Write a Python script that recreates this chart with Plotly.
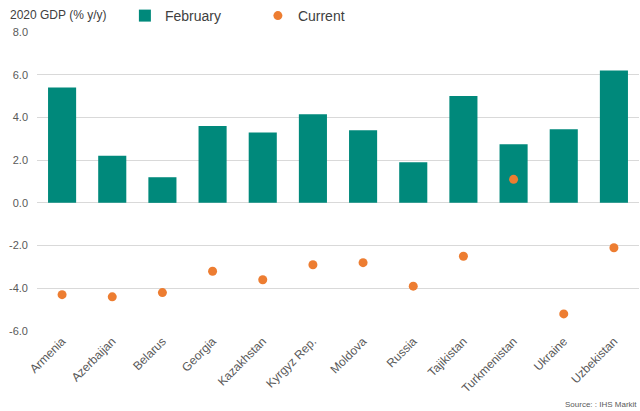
import plotly.graph_objects as go

# --- Datos ---
paises = ['Armenia', 'Azerbaijan', 'Belarus', 'Georgia', 'Kazakhstan', 'Kyrgyz Rep.',
          'Moldova', 'Russia', 'Tajikistan', 'Turkmenistan', 'Ukraine', 'Uzbekistan']
pib_febrero = [5.4, 2.2, 1.2, 3.6, 3.3, 4.15, 3.4, 1.9, 5.0, 2.75, 3.45, 6.2]
pib_actual = [-4.3, -4.4, -4.2, -3.2, -3.6, -2.9, -2.8, -3.9, -2.5, 1.1, -5.2, -2.1]
ticks_y = [-6, -4, -2, 0, 2, 4, 6, 8]

TEAL = '#00897B'
NARANJA = '#ED7D31'
GRIS = '#595959'

fig = go.Figure()
fig.add_trace(go.Bar(x=paises, y=pib_febrero, name='February',
                     marker=dict(color=TEAL, line=dict(width=0))))
fig.add_trace(go.Scatter(x=paises, y=pib_actual, name='Current', mode='markers',
                         marker=dict(color=NARANJA, size=9)))

fig.update_layout(
    width=640, height=411,
    margin=dict(l=37, r=1, t=32, b=80),
    paper_bgcolor='white', plot_bgcolor='white',
    font=dict(family='Liberation Sans, Arial, sans-serif', size=11, color=GRIS),
    bargap=0.44,
    showlegend=True,
    legend=dict(orientation='h', x=0.146, xref='paper', y=1.0, yref='container',
                xanchor='left', yanchor='top',
                entrywidth=88, font=dict(size=14, color='#404040'),
                itemwidth=30, bgcolor='rgba(0,0,0,0)'),
    xaxis=dict(tickangle=-45, showgrid=False, showline=False, ticks='',
               range=[-0.5, 11.5], automargin=False,
               tickfont=dict(size=12, color=GRIS)),
    yaxis=dict(range=[-6, 8], tickvals=ticks_y, automargin=False,
               ticktext=[f'{v:.1f}' for v in ticks_y],
               showgrid=True, gridcolor='#D9D9D9', gridwidth=1,
               zeroline=True, zerolinecolor='#D9D9D9', zerolinewidth=1,
               tickfont=dict(size=11, color=GRIS), ticks='', ticklabelstandoff=8),
    annotations=[
        dict(text='2020 GDP (% y/y)', xref='paper', yref='paper', x=-0.048, y=1.057,
             xanchor='left', yanchor='middle', showarrow=False,
             font=dict(size=12, color='#404040')),
        dict(text='Source: : IHS Markit', xref='paper', yref='paper', x=1.0, y=-0.268,
             xanchor='right', yanchor='bottom', showarrow=False,
             font=dict(size=8, color=GRIS)),
    ],
)

# quitar el margen por defecto del body para que el grafico quede en (0, 0)
fig.write_html('out.html', config={'displayModeBar': False},
               post_script="document.body.style.margin='0px';")
